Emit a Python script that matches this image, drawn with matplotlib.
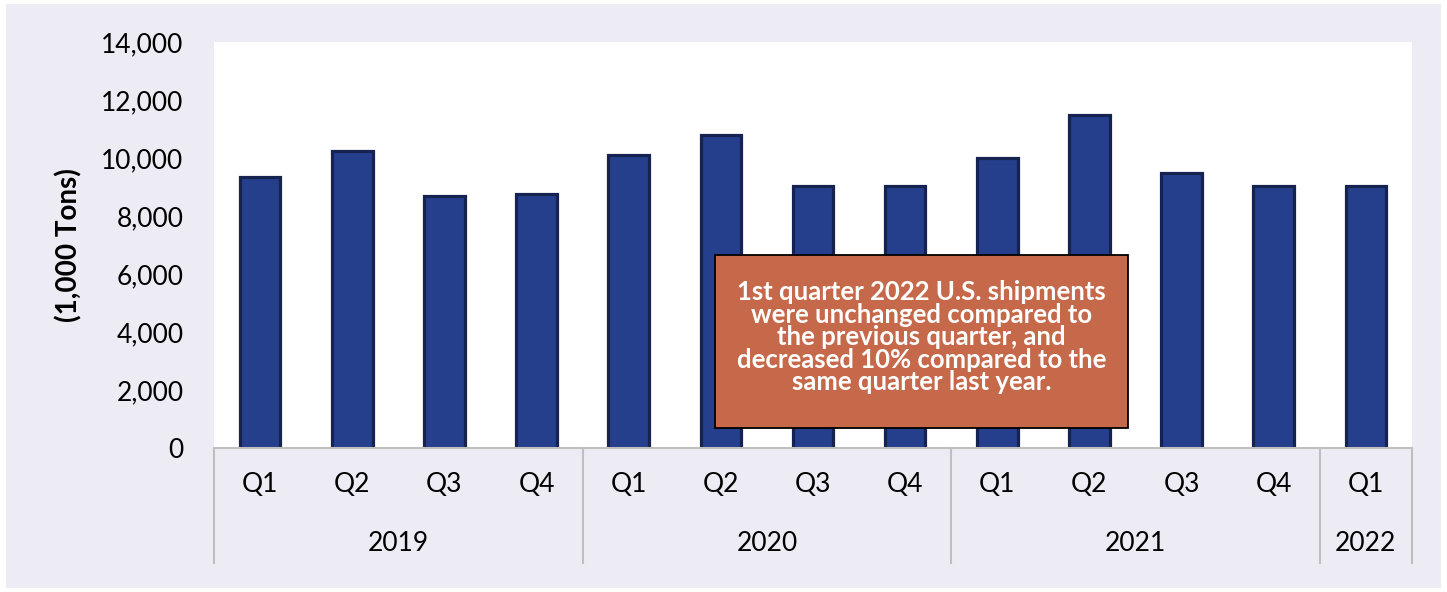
import matplotlib.pyplot as plt
from matplotlib.patches import Rectangle
from matplotlib.lines import Line2D
import matplotlib.transforms as mtransforms

plt.rcParams['font.family'] = ['Lato', 'DejaVu Sans']

quarters = ["Q1", "Q2", "Q3", "Q4", "Q1", "Q2", "Q3", "Q4", "Q1", "Q2", "Q3", "Q4", "Q1"]
shipments = [9350, 10250, 8700, 8750, 10100, 10800, 9050, 9050, 10000, 11500, 9500, 9050, 9050]
years = ["2019", "2020", "2021", "2022"]
year_counts = [4, 4, 4, 1]
note = ("1st quarter 2022 U.S. shipments\nwere unchanged compared to\nthe previous quarter, and\n"
        "decreased 10% compared to the\nsame quarter last year.")

W, H = 1447, 592
fig = plt.figure(figsize=(W / 100, H / 100), dpi=100, facecolor='white')
fig.patches.append(Rectangle((6 / W, 4 / H), (W - 12) / W, (H - 8) / H,
                             transform=fig.transFigure, facecolor='#EDECF4',
                             edgecolor='none', zorder=-1))

ax = fig.add_axes([214 / W, 1 - 448 / H, (1412 - 214) / W, (448 - 42) / H])
ax.set_facecolor('white')

x = list(range(len(shipments)))
ax.bar(x, shipments, width=0.44, color='#253F8C', edgecolor='#16224F', linewidth=2.3, zorder=2)

ax.set_xlim(-0.5, len(shipments) - 0.5)
ax.set_ylim(0, 14000)
ax.set_yticks(range(0, 14001, 2000))
ax.set_yticklabels([f"{v:,}" for v in range(0, 14001, 2000)], fontsize=19)
ax.tick_params(axis='y', length=0, pad=22)
ax.set_xticks([])
for s in ['left', 'right', 'top']:
    ax.spines[s].set_visible(False)
ax.spines['bottom'].set_color('#BFBFBF')
ax.spines['bottom'].set_linewidth(1.5)

ax.set_ylabel("(1,000 Tons)", fontsize=20, fontweight='bold')
ax.yaxis.set_label_coords(-0.11, 0.5)

trans = mtransforms.blended_transform_factory(ax.transData, ax.transAxes)
for i, q in enumerate(quarters):
    ax.text(i, -0.09, q, transform=trans, ha='center', va='center', fontsize=19)

start = 0
bottom = -(563 - 448) / 406
ax.add_line(Line2D([-0.5, -0.5], [0, bottom], transform=trans, color='#BFBFBF',
                   linewidth=1.5, clip_on=False))
for yr, n in zip(years, year_counts):
    ax.text(start + (n - 1) / 2, -0.235, yr, transform=trans, ha='center', va='center', fontsize=19)
    start += n
    ax.add_line(Line2D([start - 0.5, start - 0.5], [0, bottom], transform=trans,
                       color='#BFBFBF', linewidth=1.5, clip_on=False))

ax.add_patch(Rectangle((0.418, 0.049), 0.345, 0.426, transform=ax.transAxes,
                       facecolor='#C5694A', edgecolor='black', linewidth=1.3, zorder=3))
ax.text(0.5905, 0.273, note, transform=ax.transAxes, ha='center', va='center',
        color='white', fontsize=18.5, fontweight='bold', linespacing=0.92, zorder=4)

fig.savefig("out.png", dpi=100, facecolor=fig.get_facecolor())
